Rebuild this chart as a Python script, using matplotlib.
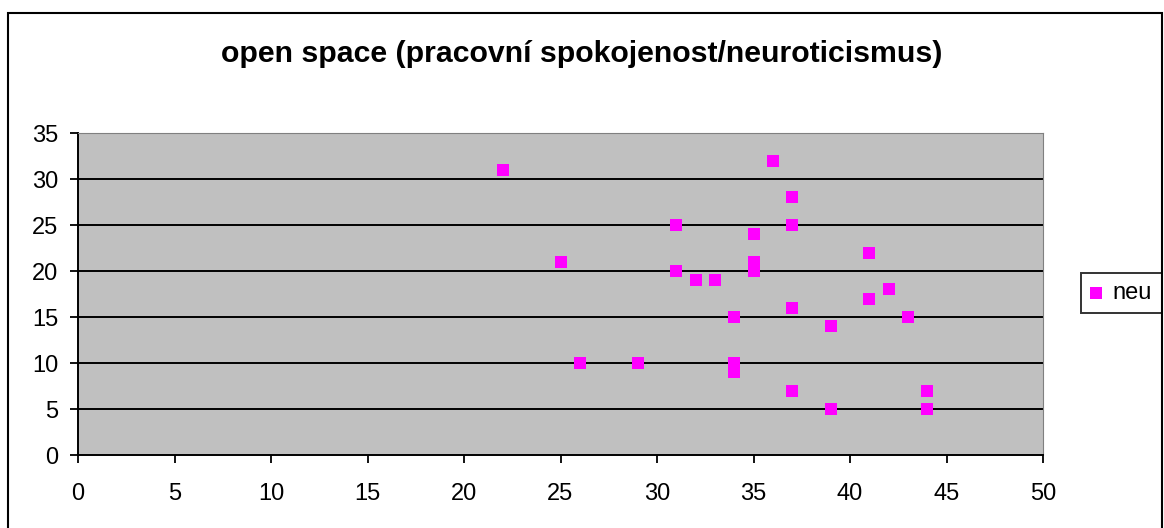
import matplotlib
matplotlib.use("Agg")
import matplotlib.pyplot as plt
from matplotlib.patches import Rectangle

plt.rcParams['font.family'] = ['Liberation Sans', 'DejaVu Sans']

title = "open space (pracovní spokojenost/neuroticismus)"
series_name = "neu"
x_vals = [22, 25, 26, 29, 31, 31, 32, 33, 34, 34, 34, 35, 35, 35, 36, 37, 37, 37, 37, 39, 39, 41, 41, 42, 43, 44, 44]
y_vals = [31, 21, 10, 10, 25, 20, 19, 19, 15, 10, 9, 24, 21, 20, 32, 28, 25, 16, 7, 14, 5, 22, 17, 18, 15, 7, 5]
x_ticks = [0, 5, 10, 15, 20, 25, 30, 35, 40, 45, 50]
y_ticks = [0, 5, 10, 15, 20, 25, 30, 35]

W, H = 1164, 528
fig = plt.figure(figsize=(W / 100, H / 100), dpi=100)
fig.patch.set_facecolor('white')

# outer chart frame
fig.add_artist(Rectangle((8 / W, -0.05), (1162 - 8) / W, 1.05 - 13 / H,
                         transform=fig.transFigure, fill=False, edgecolor='black', linewidth=1.5))

ax = fig.add_axes([78 / W, 1 - 455 / H, (1043 - 78) / W, (455 - 133) / H])
ax.set_facecolor('#C0C0C0')
ax.set_xlim(0, 50)
ax.set_ylim(0, 35)
ax.set_xticks(x_ticks)
ax.set_yticks(y_ticks)
ax.tick_params(axis='both', direction='out', length=6, width=1.3, labelsize=17, colors='black')
ax.tick_params(axis='x', pad=14)
ax.tick_params(axis='y', pad=8)
for yv in y_ticks[1:-1]:
    ax.axhline(yv, color='black', linewidth=1.4, zorder=1)
ax.spines['left'].set_color('black')
ax.spines['bottom'].set_color('black')
ax.spines['left'].set_linewidth(1.4)
ax.spines['bottom'].set_linewidth(1.4)
ax.spines['top'].set_color('#808080')
ax.spines['right'].set_color('#808080')

ax.scatter(x_vals, y_vals, marker='s', s=63, color='#FF00FF', linewidths=0, zorder=3, label=series_name)

fig.text(0.5, 1 - 54 / H, title, ha='center', va='center', fontsize=21.8, fontweight='bold')

leg = ax.legend(loc='center left', bbox_to_anchor=(1081 / W, 1 - 293 / H), bbox_transform=fig.transFigure,
                frameon=True, fancybox=False, edgecolor='black', fontsize=17, handlelength=0.5,
                handletextpad=0.45, borderpad=0.4, borderaxespad=0, markerscale=1.0)
leg.get_frame().set_linewidth(1.4)
leg.get_frame().set_edgecolor('black')

fig.savefig('out.png', dpi=100)
